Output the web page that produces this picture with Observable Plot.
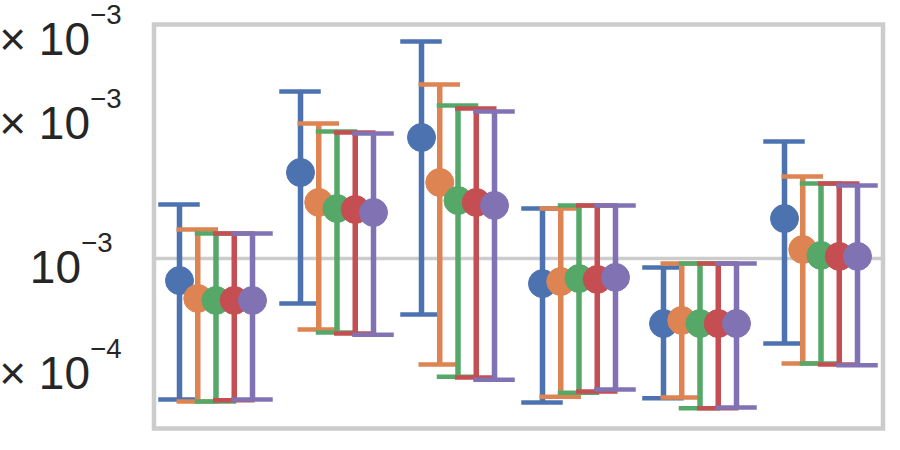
<!DOCTYPE html>
<html><head><meta charset="utf-8">
<script src="https://cdn.jsdelivr.net/npm/d3@7"></script>
<script src="https://cdn.jsdelivr.net/npm/@observablehq/plot@0.6"></script>
<style>html,body{margin:0;padding:0;background:#fff;}</style>
</head><body><div id="chart"></div>
<script>
// ---- data ----
const groups = ["A", "B", "C", "D", "E", "F"];
const hues = ["S1", "S2", "S3", "S4", "S5"];
const colors = ["#4c72b0", "#dd8452", "#55a868", "#c44e52", "#8172b3"];
// point estimates (units of 1e-3): one row per hue, one column per group
const means = [
  [0.899, 1.513, 1.791, 0.886, 0.731, 1.212],
  [0.825, 1.310, 1.442, 0.895, 0.742, 1.044],
  [0.817, 1.272, 1.322, 0.908, 0.731, 1.015],
  [0.817, 1.266, 1.310, 0.904, 0.731, 1.010],
  [0.817, 1.248, 1.291, 0.913, 0.731, 1.010]
];
const lows = [
  [0.507, 0.805, 0.764, 0.500, 0.510, 0.664],
  [0.502, 0.710, 0.600, 0.514, 0.512, 0.603],
  [0.502, 0.700, 0.566, 0.524, 0.486, 0.603],
  [0.505, 0.697, 0.564, 0.527, 0.486, 0.600],
  [0.507, 0.693, 0.558, 0.532, 0.488, 0.598]
];
const highs = [
  [1.297, 2.235, 2.844, 1.272, 0.958, 1.757],
  [1.150, 1.916, 2.312, 1.272, 0.976, 1.484],
  [1.128, 1.844, 2.090, 1.291, 0.976, 1.435],
  [1.128, 1.835, 2.060, 1.291, 0.976, 1.435],
  [1.128, 1.826, 2.030, 1.291, 0.976, 1.421]
];
const unit = 1e-3;
const yTicks = [6e-4, 1e-3, 2e-3, 3e-3];
const yTickLabels = ["6 × 10|−4", "10|−3", "2 × 10|−3", "3 × 10|−3"];
const gridTicks = [1e-3];
const yDomain = [4.41e-4, 3.086e-3];

// ---- layout ----
const W = 900, H = 450;
const mL = 153.5, mR = 17.5, mT = 24, mB = 22;
const bandW = (W - mL - mR) / groups.length;
const hueStep = 18.25;
const capW = 42;
const capInset = (bandW - capW) / 2;
const FS = 46;

const rows = [];
hues.forEach((h, hi) => groups.forEach((g, gi) => rows.push({
  group: g, hue: h, hi,
  mean: means[hi][gi] * unit, low: lows[hi][gi] * unit, high: highs[hi][gi] * unit
})));

const hueMarks = [];
hues.forEach((h, hi) => {
  const data = rows.filter(r => r.hue === h);
  const dx = (hi - (hues.length - 1) / 2) * hueStep;
  const c = colors[hi];
  hueMarks.push(
    Plot.ruleX(data, {x: "group", y1: "low", y2: "high", stroke: c, strokeWidth: 5.5, dx}),
    Plot.tickY(data, {x: "group", y: "low", stroke: c, strokeWidth: 4.5, dx, insetLeft: capInset, insetRight: capInset}),
    Plot.tickY(data, {x: "group", y: "high", stroke: c, strokeWidth: 4.5, dx, insetLeft: capInset, insetRight: capInset}),
    Plot.dot(data, {x: "group", y: "mean", r: 14, fill: c, stroke: c, strokeWidth: 1, dx})
  );
});

const chart = Plot.plot({
  width: W, height: H,
  marginLeft: mL, marginRight: mR, marginTop: mT, marginBottom: mB,
  style: {fontFamily: "'Liberation Sans', Arial, sans-serif", background: "#fff", overflow: "hidden"},
  x: {domain: groups, padding: 0, axis: null},
  y: {type: "log", domain: yDomain, axis: null},
  marks: [
    Plot.ruleY(gridTicks, {stroke: "#cccccc", strokeWidth: 3.5}),
    Plot.axisY(yTicks, {
      tickSize: 0, tickPadding: 32.5, fontSize: FS, fill: "#262626",
      tickFormat: d => yTickLabels[yTicks.indexOf(d)], dy: 10
    }),
    ...hueMarks,
    Plot.frame({stroke: "#cccccc", strokeWidth: 4.5})
  ]
});
document.getElementById("chart").appendChild(chart);

// render superscripts as real tspans
d3.select(chart).selectAll('g[aria-label="y-axis tick label"] text').each(function () {
  const t = this.textContent;
  if (!t.includes("|")) return;
  const [base, exp] = t.split("|");
  this.textContent = "";
  const ns = "http://www.w3.org/2000/svg";
  const a = document.createElementNS(ns, "tspan");
  a.textContent = base;
  const b = document.createElementNS(ns, "tspan");
  b.setAttribute("dy", -0.67 * FS);
  b.setAttribute("font-size", 0.6 * FS);
  b.textContent = exp;
  this.appendChild(a); this.appendChild(b);
  if (!base.includes("×")) this.setAttribute("x", -9);
});
</script>
</body></html>
